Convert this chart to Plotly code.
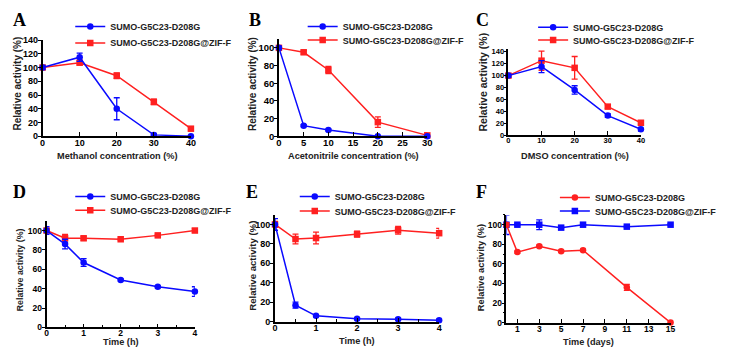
import plotly.graph_objects as go

BLUE = "#0a0aff"
RED = "#ff2020"
NAME1 = "SUMO-G5C23-D208G"
NAME2 = "SUMO-G5C23-D208G@ZIF-F"

# Panel A - methanol
a_x = [0, 10, 20, 30, 40]
a_free = [100, 115, 40, 2, 0]
a_free_err = [3, 6, 16, 2, 1]
a_zif = [100, 107, 88, 50, 11]
a_zif_err = [2, 3, 4, 4, 2]

# Panel B - acetonitrile
b_x = [0, 5, 10, 20, 30]
b_free = [100, 12, 7, 0, 0]
b_free_err = [2, 1, 1, 0.5, 0.5]
b_zif = [100, 95, 75, 16, 1]
b_zif_err = [2, 2, 4, 6, 3]

# Panel C - DMSO
c_x = [0, 10, 20, 30, 40]
c_free = [100, 115, 76, 33, 10]
c_free_err = [3, 10, 7, 3, 3]
c_zif = [100, 125, 113, 48, 21]
c_zif_err = [2, 16, 19, 3, 3]

# Panel D - time (h)
d_x = [0, 0.5, 1, 2, 3, 4]
d_free = [100, 86, 67, 49, 42, 37]
d_free_err = [4, 5, 4, 1, 1, 5]
d_zif = [100, 92, 92, 91, 95, 100]
d_zif_err = [2, 4, 2, 1, 1, 2]

# Panel E - time (h)
e_x = [0, 0.5, 1, 2, 3, 4]
e_free = [100, 17, 6, 3, 2.5, 1.5]
e_free_err = [6, 3, 1, 1, 1, 1]
e_zif = [100, 85, 86, 90, 94, 91]
e_zif_err = [3, 5, 6, 3, 4, 5]

# Panel F - time (days)
f_x = [0, 1, 3, 5, 7, 11, 15]
f_free = [100, 72, 78, 73, 74, 36, 0]
f_free_err = [2, 1, 1, 1, 1, 3, 0.5]
f_zif = [100, 100, 100, 97, 100, 98, 100]
f_zif_err = [10, 1, 5, 1, 1, 1, 1]

x_titles = ["Methanol concentration (%)", "Acetonitrile concentration (%)",
            "DMSO concentration (%)", "Time (h)", "Time (h)", "Time (days)"]
y_title = "Relative activity (%)"
panel_letters = ["A", "B", "C", "D", "E", "F"]

W, H = 729, 360
FONT = "Liberation Sans, Arial, sans-serif"

fig = go.Figure()

# pixel boxes: (x0, x1, ybottom, ytop) of plot areas
boxes = [
    (40, 190, 135, 36),
    (279, 429, 135, 35),
    (511, 645, 134, 45),
    (44, 194, 331.7, 222),
    (275, 441, 325.7, 215.7),
    (509, 675, 326.7, 215.9),
]
xranges = [[0, 40], [0, 30], [0, 40], [0, 4], [0, 4], [0, 15]]
yranges = [[0, 140], [0, 110], [0, 145], [0, 110], [0, 110], [0, 110]]
ytickvals = [list(range(0, 141, 20)), list(range(0, 101, 20)), list(range(0, 141, 20)),
             list(range(0, 101, 20)), list(range(0, 101, 20)), list(range(0, 101, 20))]
xtickvals = [[0, 10, 20, 30, 40], [0, 5, 10, 15, 20, 25, 30], [0, 10, 20, 30, 40],
             [0, 1, 2, 3, 4], [0, 1, 2, 3, 4], [1, 3, 5, 7, 9, 11, 13, 15]]
tick_sizes = [9, 9.5, 7.5, 8.5, 9, 8.5]

panels = [
    (a_x, a_free, a_free_err, a_zif, a_zif_err),
    (b_x, b_free, b_free_err, b_zif, b_zif_err),
    (c_x, c_free, c_free_err, c_zif, c_zif_err),
    (d_x, d_free, d_free_err, d_zif, d_zif_err),
    (e_x, e_free, e_free_err, e_zif, e_zif_err),
    (f_x, f_free, f_free_err, f_zif, f_zif_err),
]

# legend: (text start x, row1 y, row2 y)
legend_pos = [(110, 22, 39), (345, 22, 36), (578, 23, 36),
              (110, 197, 211), (337, 197, 212), (600, 198, 212)]
# y title: (x center, y center, font size)
ytitle = [(15, 81, 10), (253, 81, 10), (485, 79, 10.5),
          (18, 272, 8.8), (252, 268, 9.6), (483, 270, 9.3)]
xtitle_y = [155.5, 155, 155, 346.5, 346, 347]
letter_pos = [(17, 15), (255, 15), (485, 15), (17, 192), (252, 192), (484, 192)]

leg_count = 0
for i, (xs, fr, fre, zf, zfe) in enumerate(panels):
    n = i + 1
    xa = "x" if n == 1 else f"x{n}"
    ya = "y" if n == 1 else f"y{n}"
    if n == 6:
        free_col, free_sym = RED, "circle"
        zif_col, zif_sym = BLUE, "square"
    else:
        free_col, free_sym = BLUE, "circle"
        zif_col, zif_sym = RED, "square"
    tx, r1, r2 = legend_pos[i]
    traces = [
        (NAME2, zf, zfe, zif_col, zif_sym, r2),
        (NAME1, fr, fre, free_col, free_sym, r1),
    ]
    for name, ys, err, col, sym, ry in traces:
        leg_count += 1
        leg = "legend" if leg_count == 1 else f"legend{leg_count}"
        fig.add_trace(go.Scatter(
            x=xs, y=ys, name=name, mode="lines+markers",
            line=dict(color=col, width=1.5),
            marker=dict(color=col, symbol=sym, size=6.5 if sym == "circle" else 6.5),
            error_y=dict(type="data", array=err, visible=True, color=col,
                         thickness=1.3, width=3),
            xaxis=xa, yaxis=ya, legend=leg,
            cliponaxis=False,
        ))
        fig.layout[leg] = dict(
            x=(tx - 42) / W, y=1 - ry / H, xanchor="left", yanchor="middle",
            xref="paper", yref="paper",
            bgcolor="rgba(0,0,0,0)", borderwidth=0,
            font=dict(family=FONT, size=9, color="#222", weight="bold"),
            itemwidth=30,
        )

    x0, x1, yb, yt = boxes[i]
    xkey = "xaxis" if n == 1 else f"xaxis{n}"
    ykey = "yaxis" if n == 1 else f"yaxis{n}"
    tf = dict(family=FONT, size=tick_sizes[i], color="black", weight="bold")
    xaxis = dict(
        domain=[x0 / W, x1 / W], range=xranges[i], anchor=ya,
        showline=True, linecolor="black", linewidth=1.6,
        showgrid=False, zeroline=False,
        ticks="inside", ticklen=4, tickwidth=1.4, tickcolor="black",
        tickvals=xtickvals[i], tickfont=tf, ticklabelstandoff=-3,
        fixedrange=True,
    )
    if n in (4, 5):
        xaxis["minor"] = dict(ticks="inside", ticklen=2.5, tickwidth=1.2, dtick=0.5, tickcolor="black")
    yaxis = dict(
        domain=[1 - yb / H, 1 - yt / H], range=yranges[i], anchor=xa,
        showline=True, linecolor="black", linewidth=1.6,
        showgrid=False, zeroline=False,
        ticks="outside", ticklen=3, tickwidth=1.4, tickcolor="black",
        tickvals=ytickvals[i], tickfont=tf, ticklabelstandoff=-2,
        fixedrange=True,
    )
    if n == 6:
        yaxis["minor"] = dict(ticks="outside", ticklen=2, tickwidth=1.2, dtick=10, tickcolor="black")
    fig.layout[xkey] = xaxis
    fig.layout[ykey] = yaxis

    # axis titles
    tx_, ty_, ts_ = ytitle[i]
    fig.add_annotation(
        x=tx_ / W, y=1 - ty_ / H, xref="paper", yref="paper",
        text=y_title, textangle=-90, showarrow=False,
        font=dict(family=FONT, size=ts_, color="#222", weight="bold"),
        xanchor="center", yanchor="middle",
    )
    fig.add_annotation(
        x=(x0 + x1) / 2 / W, y=1 - xtitle_y[i] / H, xref="paper", yref="paper",
        text=x_titles[i], showarrow=False,
        font=dict(family=FONT, size=9.2, color="#222", weight="bold"),
        xanchor="center", yanchor="middle",
    )

    px, py = letter_pos[i]
    fig.add_annotation(
        x=px / W, y=1 - py / H, xref="paper", yref="paper",
        text=panel_letters[i], showarrow=False,
        font=dict(family="Liberation Serif, Times New Roman, serif", size=18, color="black", weight="bold"),
        xanchor="center", yanchor="middle",
    )

fig.update_layout(
    width=W, height=H,
    margin=dict(l=0, r=0, t=0, b=0),
    paper_bgcolor="white", plot_bgcolor="white",
    showlegend=True,
)

fig.write_html("out.html")
